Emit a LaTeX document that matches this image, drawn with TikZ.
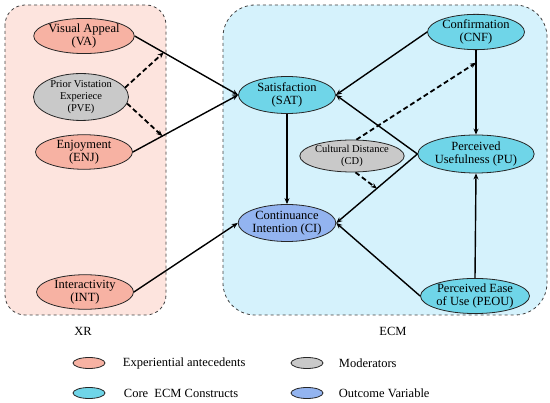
\documentclass[tikz,border=0pt]{standalone}
\usepackage{fontspec}
\setmainfont{Liberation Serif}
\usetikzlibrary{shapes.geometric, arrows.meta, positioning, calc}
\definecolor{xrbg}{HTML}{FDE4DE}
\definecolor{ecmbg}{HTML}{D5F2FC}
\definecolor{antec}{HTML}{F7B2A3}
\definecolor{moder}{HTML}{C9C9C9}
\definecolor{core}{HTML}{6FD5E8}
\definecolor{outcome}{HTML}{93B4F0}

\begin{document}
\begin{tikzpicture}[
    x=1pt, y=-1pt,
    every node/.style={font=\fontsize{12.5}{13.5}\selectfont},
    grp/.style={draw=black!75, dashed, line width=0.8pt},
    cst/.style={ellipse, draw=black!85, line width=0.8pt, inner sep=0pt,
                minimum width=97pt, minimum height=35pt, align=center},
    small/.style={font=\fontsize{10.5}{12}\selectfont},
    key/.style={ellipse, draw=black!85, line width=0.8pt, inner sep=0pt,
                minimum width=32pt, minimum height=11pt},
    leg/.style={font=\fontsize{12.5}{14}\selectfont},
    arr/.style={-{Stealth[length=6pt, width=5pt]}, line width=1.4pt},
    mod/.style={-{Stealth[length=6pt, width=5pt]}, line width=1.8pt,
                dash pattern=on 5pt off 3pt}
]
    \useasboundingbox (0,0) rectangle (550,403);
    % group boxes
    \draw[grp, fill=xrbg, rounded corners=20pt] (5,5) rectangle (166,315);
    \draw[grp, fill=ecmbg, rounded corners=32pt] (223,5) rectangle (547,315);
    \node (xr) at (83,331) {XR};
    \node (ecm) at (393,331) {ECM};

    % XR constructs
    \node[cst, fill=antec, minimum height=30pt] (va) at (84,36) {Visual Appeal\\(VA)};
    \node[cst, fill=moder, small, minimum width=95pt, minimum height=40pt] (pve) at (81,97)
        {Prior Vistation\\Experiece\\(PVE)};
    \node[cst, fill=antec, minimum height=34pt] (enj) at (84,152) {Enjoyment\\(ENJ)};
    \node[cst, fill=antec, minimum height=31pt] (int) at (85,292) {Interactivity\\(INT)};

    % ECM constructs
    \node[cst, fill=core, minimum height=37pt] (sat) at (287,95) {Satisfaction\\(SAT)};
    \node[cst, fill=outcome, minimum height=37pt] (ci) at (287,223) {Continuance\\Intention (CI)};
    \node[cst, fill=moder, small, minimum width=92pt, minimum height=32pt] (cd) at (352,156)
        {Cultural Distance\\(CD)};
    \node[cst, fill=core] (cnf) at (476,32) {Confirmation\\(CNF)};
    \node[cst, fill=core, minimum height=38pt] (pu) at (476,154) {Perceived\\Usefulness (PU)};
    \node[cst, fill=core] (peou) at (475,296) {Perceived Ease\\of Use (PEOU)};

    % paths
    \draw[arr] (va.east) -- (sat.west);
    \draw[arr] (enj.east) -- (sat.west);
    \draw[arr] (int.east) -- (ci.west);
    \draw[arr] (sat.south) -- (ci.north);
    \draw[arr] (cnf.west) -- (sat.east);
    \draw[arr] (cnf.south) -- (pu.north);
    \draw[arr] (pu.west) -- (sat.east);
    \draw[arr] (pu.west) -- (ci.east);
    \draw[arr] (peou.west) -- (ci.east);
    \draw[arr] (peou.north) -- (pu.south);

    % moderating effects
    \coordinate (vasat) at ($(va.east)!0.28!(sat.west)$);
    \coordinate (enjsat) at ($(enj.east)!0.28!(sat.west)$);
    \coordinate (cnfpu) at ($(cnf.south)!0.15!(pu.north)$);
    \coordinate (puci) at ($(pu.west)!0.5!(ci.east)$);
    \draw[mod] (pve.12) -- (vasat);
    \draw[mod] (pve.-8) -- (enjsat);
    \draw[mod] (cd.75) -- (cnfpu);
    \draw[mod] (cd.-78) -- (puci);

    % legend
    \node[key, fill=antec] (kant) at (89,363) {};
    \node[leg, right=14pt of kant] (lant) {Experiential antecedents};
    \node[key, fill=core] (kcore) at (89,393) {};
    \node[leg, right=15pt of kcore] (lcore) {Core\ \ ECM Constructs};
    \node[key, fill=moder] (kmod) at (307,363) {};
    \node[leg, right=12pt of kmod] (lmod) {Moderators};
    \node[key, fill=outcome] (kout) at (307,393) {};
    \node[leg, right=12pt of kout] (lout) {Outcome Variable};
\end{tikzpicture}
\end{document}
